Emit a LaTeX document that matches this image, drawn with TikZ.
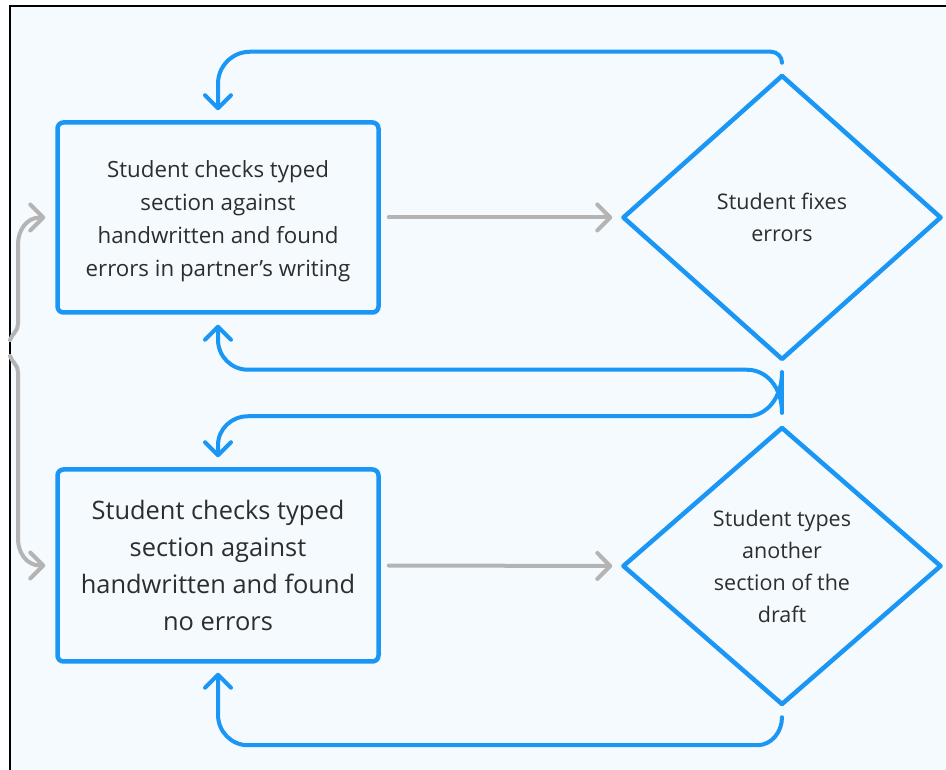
\documentclass[tikz,border=0pt]{standalone}
\usepackage{fontspec}
\setmainfont{Open Sans}
\usetikzlibrary{calc}
\usetikzlibrary{arrows.meta}
\usetikzlibrary{shapes.geometric}

\definecolor{flowblue}{RGB}{26,150,245}
\definecolor{flowgray}{RGB}{180,180,180}
\definecolor{flowtext}{RGB}{45,45,45}
\definecolor{flowbg}{RGB}{245,250,254}

\begin{document}
\begin{tikzpicture}[x=1pt, y=1pt,
    box/.style={draw=flowblue, line width=4.5pt, rounded corners=6pt, minimum width=321pt, inner sep=0pt, align=center, text=flowtext},
    choice/.style={diamond, draw=flowblue, line width=4.5pt, line join=round, minimum width=319pt, inner sep=-6pt, align=center, text=flowtext, font=\fontsize{21.5}{32}\selectfont},
    bluearrow/.style={draw=flowblue, line width=4pt, line cap=round, -{Straight Barb[length=13pt, width=26pt, line cap=round, line join=round]}},
    grayarrow/.style={draw=flowgray, line width=4pt, line cap=round, -{Straight Barb[length=13pt, width=26pt, line cap=round, line join=round]}}]
    
    \useasboundingbox (0,0) rectangle (946,770);
    \fill[white] (0,0) rectangle (946,770);
    \draw[black, line width=2pt, fill=flowbg] (10,-20) rectangle (980,764);
    
    \node[box, minimum height=190pt, font=\fontsize{22.3}{33}\selectfont] (chkErr) at (218,552.5)
        {\rule{0pt}{24pt}Student checks typed\\section against\\handwritten and found\\errors in partner’s writing};
    \node[box, minimum height=192pt, font=\fontsize{25.4}{37}\selectfont] (chkOk) at (218,204.5)
        {Student checks typed\\section against\\handwritten and found\\no errors};
    \node[choice, minimum height=285pt] (fixes) at (782,552.5) {Student fixes\\errors};
    \node[choice, minimum height=278pt] (types) at (782,204) {Student types\\another\\section of the\\draft};
    
    \coordinate (split) at (10,422);
    
    % forward steps
    \draw[grayarrow, shorten <=8pt, shorten >=8pt] (chkErr.east) -- (fixes.west);
    \draw[grayarrow, shorten <=8pt, shorten >=8pt] (chkOk.east) -- (types.west);
    \draw[grayarrow] ([yshift=8pt]split) to[out=70,in=-90] ++(8,16) -- ++(0,80) to[out=90,in=180] ++(22,26.5) -- ([xshift=-10pt]chkErr.west);
    \draw[grayarrow] ([yshift=-8pt]split) to[out=-70,in=90] ++(8,-16) -- ++(0,-167) to[out=-90,in=180] ++(22,-26.5) -- ([xshift=-10pt]chkOk.west);
    
    % loops back
    \draw[bluearrow] ([yshift=10pt]fixes.north) to[out=90,in=0] ++(-11,11) -- ($(chkErr.north)+(32,68.5)$) to[out=180,in=90] ($(chkErr.north)+(0,36.5)$) -- ([yshift=10pt]chkErr.north);
    \draw[bluearrow] ([yshift=12pt]types.north) .. controls +(0,25) and +(20,0) .. ++(-35,43) -- ($(chkErr.south)+(30,-55)$) to[out=180,in=-90] ($(chkErr.south)+(0,-25)$) -- ([yshift=-10pt]chkErr.south);
    \draw[bluearrow] ([yshift=-10pt]fixes.south) .. controls +(0,-25) and +(20,0) .. ++(-35,-44) -- ($(chkOk.north)+(30,51)$) to[out=180,in=90] ($(chkOk.north)+(0,22)$) -- ([yshift=10pt]chkOk.north);
    \draw[flowblue, line width=4pt, line cap=round] ([yshift=-10pt]fixes.south) -- ([yshift=12pt]types.north);
    \draw[bluearrow] ([yshift=-10pt]types.south) to[out=-90,in=0] ++(-25,-28) -- ($(chkOk.south)+(30,-81.5)$) to[out=180,in=-90] ($(chkOk.south)+(0,-51)$) -- ([yshift=-9pt]chkOk.south);
    
\end{tikzpicture}
\end{document}
